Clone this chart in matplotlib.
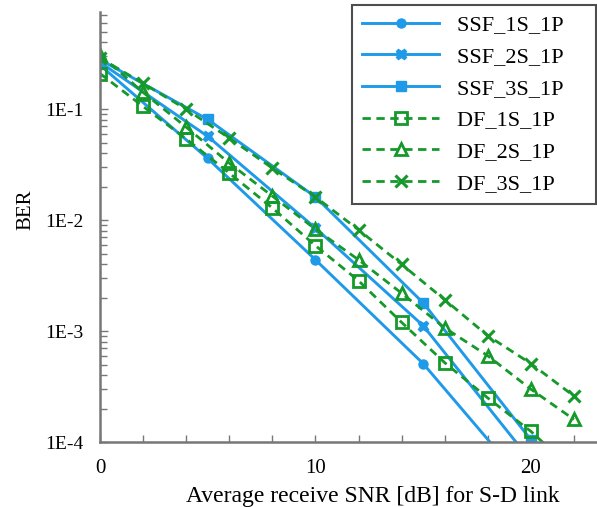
import matplotlib
matplotlib.use("Agg")
import matplotlib.pyplot as plt
from matplotlib.ticker import FixedLocator, LogLocator, NullFormatter

plt.rcParams.update({"font.family": "Liberation Serif", "font.size": 14})

BLUE = "#1f9ae8"
GREEN = "#14992a"
AXIS = "#777777"

# SSF curves: markers every 5 dB
snr_ssf = [0, 5, 10, 15, 20]
ssf_1s = [0.25, 0.036, 0.0044, 5.1e-4, 3.7e-5]
ssf_2s = [0.265, 0.057, 0.0085, 1.12e-3, 6.8e-5]
ssf_3s = [0.28, 0.081, 0.0162, 1.8e-3, 1.05e-4]

# DF curves: markers every 2 dB
snr_df = [0, 2, 4, 6, 8, 10, 12, 14, 16, 18, 20, 22]
df_1s = [0.21, 0.106, 0.054, 0.0266, 0.0129, 0.0059, 0.00285, 0.0012,
         5.2e-4, 2.5e-4, 1.25e-4, 5.5e-5]
df_2s = [0.31, 0.142, 0.069, 0.0327, 0.0165, 0.0083, 0.0044, 0.0022,
         1.07e-3, 6.0e-4, 3.0e-4, 1.6e-4]
df_3s = [0.29, 0.171, 0.10, 0.055, 0.0295, 0.0162, 0.0082, 0.0040,
         1.92e-3, 9.1e-4, 5.1e-4, 2.6e-4]
labels = ["SSF_1S_1P", "SSF_2S_1P", "SSF_3S_1P",
          "DF_1S_1P", "DF_2S_1P", "DF_3S_1P"]

fig = plt.figure(figsize=(5.97, 5.07), dpi=100)
ax = fig.add_axes([0.1675, 0.128, 0.8325, 0.848])

ax.plot(snr_ssf, ssf_1s, "-", color=BLUE, lw=2.1, marker="o", ms=6.5)
ax.plot(snr_ssf, ssf_2s, "-", color=BLUE, lw=2.1, marker="X", ms=7.5)
ax.plot(snr_ssf, ssf_3s, "-", color=BLUE, lw=2.1, marker="s", ms=6.5)
ax.plot(snr_df, df_1s, "--", color=GREEN, lw=2.0, marker="s", ms=8,
        mfc="none", mew=2, dashes=(3, 2))
ax.plot(snr_df, df_2s, "--", color=GREEN, lw=2.0, marker="^", ms=8,
        mfc="none", mew=2, dashes=(3, 2))
ax.plot(snr_df, df_3s, "--", color=GREEN, lw=2.0, marker="x", ms=9,
        mew=2.2, dashes=(3, 2))

ax.set_yscale("log")
ax.set_xlim(0, 23.07)
ax.set_ylim(1e-4, 0.75)

ax.xaxis.set_major_locator(FixedLocator([0, 10, 20]))
ax.xaxis.set_minor_locator(FixedLocator([2, 4, 6, 8, 12, 14, 16, 18, 22]))
ax.set_xticklabels(["0", "10", "20"])
ax.yaxis.set_major_locator(FixedLocator([1e-4, 1e-3, 1e-2, 1e-1]))
ax.set_yticklabels(["1E-4", "1E-3", "1E-2", "1E-1"])
ax.yaxis.set_minor_locator(LogLocator(base=10, subs=range(2, 10)))
ax.yaxis.set_minor_formatter(NullFormatter())

ax.tick_params(which="both", direction="in", color=AXIS, labelsize=15,
               top=False, right=False)
ax.tick_params(which="major", length=6, width=1)
ax.tick_params(which="minor", length=5, width=1)
ax.tick_params(axis="y", which="major", labelsize=14, pad=12)
ax.tick_params(axis="x", which="both", length=5, pad=12)

for s in ("top", "right"):
    ax.spines[s].set_visible(False)
for s in ("left", "bottom"):
    ax.spines[s].set_color(AXIS)
    ax.spines[s].set_linewidth(1.8)

ax.set_xlabel("Average receive SNR [dB] for S-D link", fontsize=17)
ax.xaxis.set_label_coords(0.549, -0.103)
ax.set_ylabel("BER", fontsize=15)
ax.yaxis.set_label_coords(-0.131, 0.54)

leg = ax.legend(ax.get_lines(), [t + "    " for t in labels],
                loc="upper right", bbox_to_anchor=(0.997, 1.017), numpoints=1,
                fontsize=16, frameon=True, fancybox=False, handlelength=3.5,
                handletextpad=0.8, labelspacing=0.5, borderpad=0.45,
                borderaxespad=0.0)
leg.get_frame().set_edgecolor("#222222")
leg.get_frame().set_linewidth(1.5)

fig.savefig("out.png", dpi=100, facecolor="white")
